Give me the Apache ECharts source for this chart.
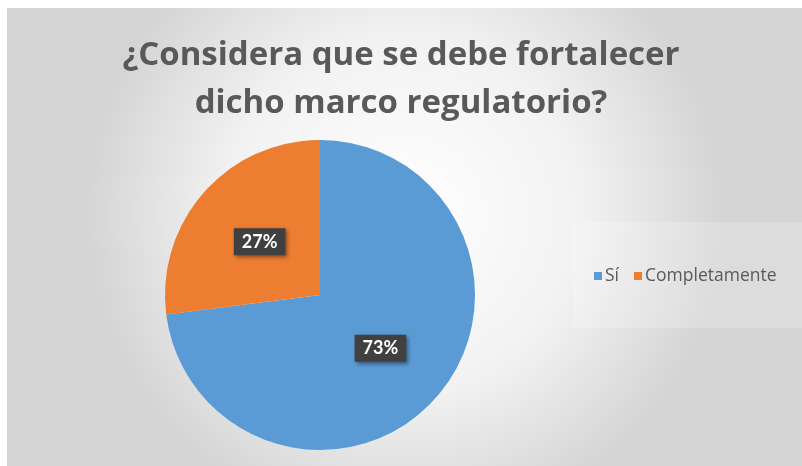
<!DOCTYPE html>
<html><head><meta charset="utf-8">
<script src="https://cdn.jsdelivr.net/npm/echarts@6/dist/echarts.min.js"></script>
<style>html,body{margin:0;padding:0;background:#fff}#c{width:802px;height:466px}</style>
</head><body><div id="c"></div>
<script>
const titleText = "¿Considera que se debe fortalecer\ndicho marco regulatorio?";
const categories = ["Sí", "Completamente"];
const values = [73, 27];
const colors = ["#5B9BD5", "#ED7D31"];

const chart = echarts.init(document.getElementById('c'));
chart.setOption({
  animation: false,
  graphic: [
    { type: 'rect', z: -10, shape: { x: 7, y: 8, width: 795, height: 458 },
      style: { fill: new echarts.graphic.RadialGradient(0.5, 0.45, 0.7, [
        { offset: 0, color: '#ffffff' }, { offset: 0.55, color: '#f2f2f2' }, { offset: 1, color: '#d4d4d4' }]) } },
    { type: 'rect', z: -9, shape: { x: 573, y: 222, width: 229, height: 106 },
      style: { fill: 'rgba(255,255,255,0.2)' } }
  ],
  title: {
    text: titleText, left: 'center', top: 27,
    textStyle: { fontFamily: 'Open Sans', fontWeight: 'bold', fontSize: 33, color: '#595959', lineHeight: 48 }
  },
  legend: {
    orient: 'horizontal', left: 589, top: 262, itemWidth: 8, itemHeight: 8, itemGap: 15,
    icon: 'rect', data: categories,
    textStyle: { fontFamily: 'Open Sans', fontSize: 17.5, color: '#595959', padding: [0,0,0,-2] }
  },
  series: [{
    type: 'pie', center: [320, 295], radius: 155, startAngle: 90, clockwise: true,
    data: categories.map((n, i) => ({ name: n, value: values[i], itemStyle: { color: colors[i] } })),
    label: {
      show: true, position: 'inside', formatter: '{d}%',
      backgroundColor: '#404040', padding: [5, 8, 4, 8],
      color: '#fff', fontFamily: 'Lato', fontWeight: 'bold', fontSize: 18,
      shadowColor: 'rgba(0,0,0,0.45)', shadowBlur: 4, shadowOffsetX: 2, shadowOffsetY: 2
    },
    labelLine: { show: false },
    emphasis: { disabled: true }
  }]
});
</script></body></html>
